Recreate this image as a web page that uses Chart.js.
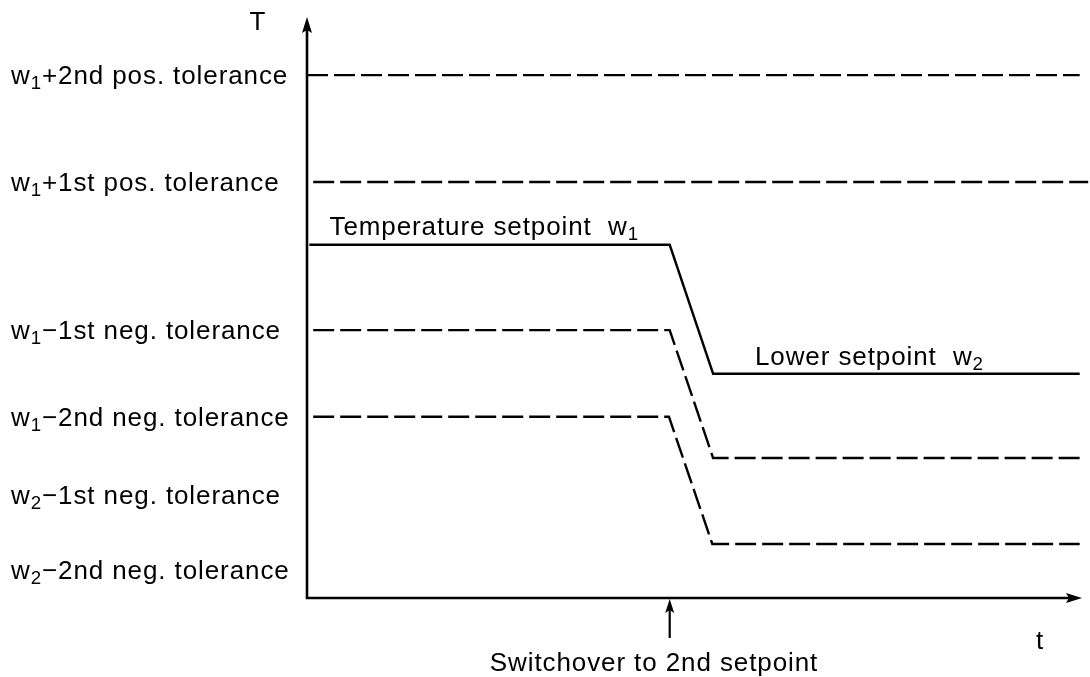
<!DOCTYPE html>
<html>
<head>
<meta charset="utf-8">
<script src="https://cdn.jsdelivr.net/npm/chart.js@4"></script>
<style>
  html, body { margin: 0; padding: 0; background: #fff; }
  #wrap { width: 1090px; height: 677px; position: relative; }
</style>
</head>
<body>
<div id="wrap"><canvas id="c" width="1090" height="677"></canvas></div>
<script>
// ---- data (time t in % of axis, temperature T in % of axis) ----
const switchTime = 46.8;
const rampEnd = 52.4;
const tEnd = 99.7;

const pos2Times = [0, tEnd];
const pos2Values = [90.0, 90.0];

const pos1Times = [0.8, 100.8];
const pos1Values = [71.6, 71.6];

const setpointTimes = [0.3, switchTime, rampEnd, tEnd];
const setpointValues = [60.8, 60.8, 38.6, 38.6];

const neg1Times = [0.8, switchTime, rampEnd, tEnd];
const neg1Values = [46.1, 46.1, 24.1, 24.1];

const neg2Times = [0.8, 46.7, 52.3, tEnd];
const neg2Values = [31.2, 31.2, 9.3, 9.3];

// y-axis labels: [w-index, operator, rest] and level
const tickTexts = [
  ['1', '+', '2nd pos. tolerance'],
  ['1', '+', '1st pos. tolerance'],
  ['1', '\u2212', '1st neg. tolerance'],
  ['1', '\u2212', '2nd neg. tolerance'],
  ['2', '\u2212', '1st neg. tolerance'],
  ['2', '\u2212', '2nd neg. tolerance']
];
const tickValues = [90.0, 71.6, 46.1, 31.2, 17.7, 4.8];

function pts(xs, ys) { return xs.map((x, i) => ({ x: x, y: ys[i] })); }

const FONT = '"Liberation Sans", Arial, Helvetica, sans-serif';
const FS = 26;
const LS = '0.9px';

function drawRich(ctx, x, y, parts) {
  let cx = x;
  for (const p of parts) {
    if (p.sub) {
      ctx.font = (FS * 0.72).toFixed(1) + 'px ' + FONT;
      ctx.fillText(p.t, cx, y + 5);
    } else {
      ctx.font = FS + 'px ' + FONT;
      ctx.fillText(p.t, cx, y);
    }
    cx += ctx.measureText(p.t).width;
  }
}

const decor = {
  id: 'decor',
  afterDraw(chart) {
    const ctx = chart.ctx;
    const xs = chart.scales.x, ys = chart.scales.y;
    const x0 = xs.getPixelForValue(0), y0 = ys.getPixelForValue(0);
    const xTip = xs.getPixelForValue(100), yTip = ys.getPixelForValue(100);
    ctx.save();
    ctx.strokeStyle = '#000';
    ctx.fillStyle = '#000';
    ctx.lineWidth = 2.6;
    ctx.lineCap = 'butt';
    ctx.lineJoin = 'miter';
    // axes
    ctx.beginPath();
    ctx.moveTo(x0, yTip + 10);
    ctx.lineTo(x0, y0);
    ctx.lineTo(xTip - 10, y0);
    ctx.stroke();
    // y arrow
    ctx.beginPath();
    ctx.moveTo(x0, yTip);
    ctx.lineTo(x0 - 5, yTip + 16);
    ctx.lineTo(x0, yTip + 13);
    ctx.lineTo(x0 + 5, yTip + 16);
    ctx.closePath();
    ctx.fill();
    // x arrow
    ctx.beginPath();
    ctx.moveTo(xTip, y0);
    ctx.lineTo(xTip - 16, y0 - 5);
    ctx.lineTo(xTip - 13, y0);
    ctx.lineTo(xTip - 16, y0 + 5);
    ctx.closePath();
    ctx.fill();
    // switchover arrow
    const sx = xs.getPixelForValue(switchTime);
    ctx.lineWidth = 2.2;
    ctx.beginPath();
    ctx.moveTo(sx, y0 + 40);
    ctx.lineTo(sx, y0 + 10);
    ctx.stroke();
    ctx.beginPath();
    ctx.moveTo(sx, y0 + 1);
    ctx.lineTo(sx - 4.5, y0 + 15);
    ctx.lineTo(sx, y0 + 12);
    ctx.lineTo(sx + 4.5, y0 + 15);
    ctx.closePath();
    ctx.fill();

    // texts
    try { ctx.letterSpacing = LS; } catch (e) {}
    ctx.textBaseline = 'alphabetic';
    ctx.textAlign = 'left';
    tickTexts.forEach((tt, i) => {
      const py = ys.getPixelForValue(tickValues[i]) + 9;
      drawRich(ctx, 11, py, [{ t: 'w' }, { t: tt[0], sub: true }, { t: tt[1] + tt[2] }]);
    });
    ctx.font = FS + 'px ' + FONT;
    ctx.textAlign = 'center';
    ctx.fillText('T', 258, 30);
    ctx.fillText('t', 1040, 649);
    ctx.fillText('Switchover to 2nd setpoint', 654, 671);
    ctx.textAlign = 'left';
    drawRich(ctx, xs.getPixelForValue(2.9), ys.getPixelForValue(62.4),
      [{ t: 'Temperature setpoint  w' }, { t: '1', sub: true }]);
    drawRich(ctx, xs.getPixelForValue(57.8), ys.getPixelForValue(40.1),
      [{ t: 'Lower setpoint  w' }, { t: '2', sub: true }]);
    ctx.restore();
  }
};

const dashed = [21, 6];
const common = {
  borderColor: '#000',
  borderWidth: 2.4,
  pointRadius: 0,
  tension: 0,
  fill: false,
  borderCapStyle: 'butt',
  borderJoinStyle: 'miter',
  clip: false
};

new Chart(document.getElementById('c'), {
  type: 'line',
  data: {
    datasets: [
      Object.assign({ label: 'w1+2nd pos. tolerance', data: pts(pos2Times, pos2Values), borderDash: dashed }, common),
      Object.assign({ label: 'w1+1st pos. tolerance', data: pts(pos1Times, pos1Values), borderDash: dashed }, common),
      Object.assign({ label: 'Temperature setpoint', data: pts(setpointTimes, setpointValues) }, common),
      Object.assign({ label: 'w1-1st neg. tolerance', data: pts(neg1Times, neg1Values), borderDash: dashed }, common),
      Object.assign({ label: 'w1-2nd neg. tolerance', data: pts(neg2Times, neg2Values), borderDash: dashed }, common)
    ]
  },
  options: {
    responsive: false,
    animation: false,
    events: [],
    layout: { padding: { left: 307, right: 8, top: 17, bottom: 79 } },
    scales: {
      x: { type: 'linear', min: 0, max: 100, display: false },
      y: { type: 'linear', min: 0, max: 100, display: false }
    },
    plugins: { legend: { display: false }, tooltip: { enabled: false } }
  },
  plugins: [decor]
});
</script>
</body>
</html>
